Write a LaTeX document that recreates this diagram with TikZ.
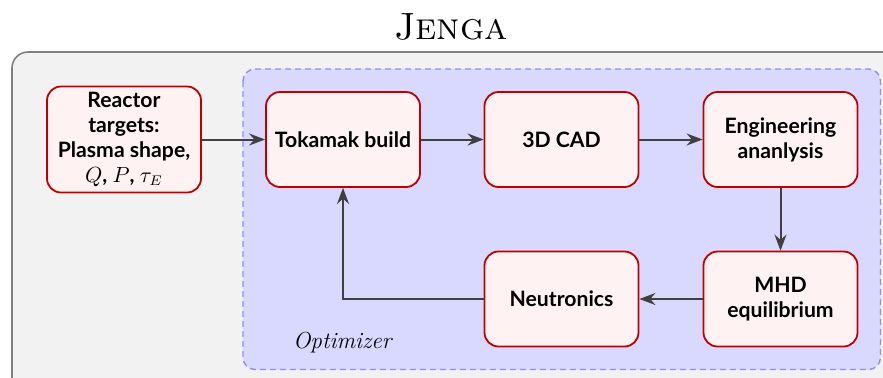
\documentclass[tikz,border=0pt]{standalone}
\usepackage{fontspec}
\newfontfamily\nodefont{Lato}
\usetikzlibrary{arrows.meta}
\begin{document}
\begin{tikzpicture}[x=0.5pt,y=-0.5pt,
  blk/.style={draw=red!75!black, fill=red!5, line width=0.9pt, rounded corners=7pt,
    minimum width=77pt, minimum height=47.5pt, align=center,
    font=\nodefont\bfseries\fontsize{10.6}{12.5}\selectfont, inner sep=2pt},
  arr/.style={draw=black!75, line width=1pt, -{Stealth[length=8pt,width=6pt]}},
  outer/.style={draw=black!50, fill=black!5, line width=0.8pt, rounded corners=8pt},
  opt/.style={draw=blue!45, fill=blue!15, dashed, dash pattern=on 3pt off 2pt, line width=0.7pt, rounded corners=6pt}
]
\useasboundingbox (0,0) rectangle (883,377);
\clip (0,0) rectangle (883,377);
\node[font=\fontsize{19}{23}\selectfont\scshape] (title) at (451,27) {Jenga};
\draw[outer] (12,52) rectangle (920,420);
\draw[opt] (243,69) rectangle (880.5,369.5);
\node[font=\itshape\fontsize{11.6}{13}\selectfont, anchor=west] (optlbl) at (286,343) {Optimizer};
\node[blk, minimum height=53pt] (rt) at (124,139.5) {Reactor\\targets:\\Plasma shape,\\$Q$, $P$, $\tau_E$};
\node[blk] (tok) at (343,139.5) {Tokamak build};
\node[blk] (cad) at (561.5,139.5) {3D CAD};
\node[blk] (eng) at (780.5,139.5) {Engineering\\ananlysis};
\node[blk] (mhd) at (780.5,299) {MHD\\equilibrium};
\node[blk] (neu) at (561.5,299) {Neutronics};
\draw[arr] (rt) -- (tok);
\draw[arr] (tok) -- (cad);
\draw[arr] (cad) -- (eng);
\draw[arr] (eng) -- (mhd);
\draw[arr] (mhd) -- (neu);
\draw[arr] (neu.west) -| (tok.south);
\end{tikzpicture}
\end{document}
